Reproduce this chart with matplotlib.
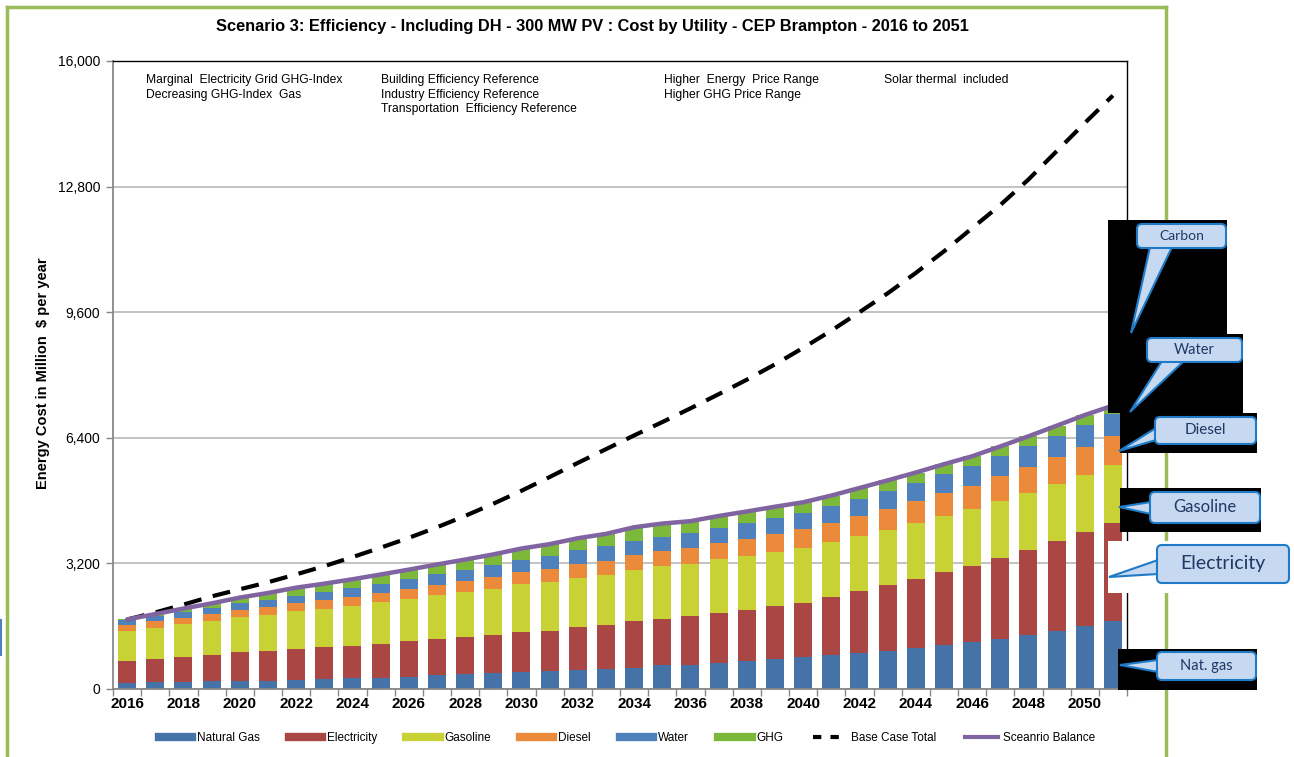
import matplotlib
matplotlib.use("Agg")
import matplotlib.pyplot as plt
import numpy as np
from matplotlib.patches import Rectangle, FancyBboxPatch, Polygon
from matplotlib.lines import Line2D
from matplotlib.transforms import IdentityTransform

# ---------------- data ----------------
years = list(range(2016, 2052))
natural_gas = [165, 180, 185, 200, 205, 210, 228, 252, 275, 285, 314, 348, 374, 399, 441, 467, 492, 518,
               545, 600, 610, 654, 705, 756, 807, 857, 925, 976, 1053, 1129, 1206, 1282, 1375, 1486, 1605, 1723]
electricity = [557, 584, 630, 666, 729, 766, 799, 809, 829, 870, 900, 917, 942, 980, 1000, 1019, 1079, 1104,
               1190, 1195, 1240, 1290, 1316, 1358, 1375, 1478, 1571, 1664, 1749, 1843, 1918, 2046, 2174, 2284, 2385, 2514]
gasoline = [755, 800, 835, 865, 890, 915, 955, 980, 1015, 1055, 1087, 1125, 1155, 1180, 1225, 1250, 1265, 1290,
            1308, 1335, 1341, 1359, 1367, 1380, 1405, 1400, 1390, 1415, 1426, 1430, 1450, 1452, 1452, 1450, 1465, 1468]
diesel = [160, 165, 170, 180, 195, 205, 210, 218, 226, 235, 255, 270, 285, 300, 315, 325, 340, 355,
          368, 385, 400, 415, 440, 460, 480, 505, 525, 540, 560, 585, 610, 635, 655, 685, 712, 745]
water = [125, 130, 150, 160, 165, 170, 185, 205, 220, 235, 245, 265, 280, 290, 310, 340, 365, 365,
         365, 365, 385, 395, 400, 405, 415, 420, 435, 455, 465, 490, 505, 515, 530, 550, 565, 560]
ghg = [10, 50, 80, 110, 145, 180, 205, 220, 230, 238, 240, 248, 262, 280, 288, 290, 300, 320,
       345, 335, 300, 295, 295, 285, 275, 268, 275, 265, 262, 250, 240, 250, 252, 252, 248, 210]
base_case_total = [1770, 1950, 2150, 2360, 2540, 2720, 2920, 3130, 3360, 3600, 3850, 4120, 4410, 4720, 5050,
                   5400, 5760, 6110, 6460, 6800, 7150, 7510, 7880, 8270, 8690, 9130, 9600, 10080, 10600,
                   11150, 11740, 12330, 12980, 13700, 14420, 15120]

series_names = ["Natural Gas", "Electricity", "Gasoline", "Diesel", "Water", "GHG"]
series_values = [natural_gas, electricity, gasoline, diesel, water, ghg]
series_colors = ["#4572A7", "#AA4643", "#C9D234", "#EC8A3B", "#4F81BD", "#7CB83A"]

title = "Scenario 3: Efficiency - Including DH - 300 MW PV : Cost by Utility - CEP Brampton - 2016 to 2051"
ylabel = "Energy Cost in Million  $ per year"
yticks = [0, 3200, 6400, 9600, 12800, 16000]
notes = [
    (146, 80, "Marginal  Electricity Grid GHG-Index"),
    (146, 95, "Decreasing GHG-Index  Gas"),
    (381, 80, "Building Efficiency Reference"),
    (381, 95, "Industry Efficiency Reference"),
    (381, 109, "Transportation  Efficiency Reference"),
    (664, 80, "Higher  Energy  Price Range"),
    (664, 95, "Higher GHG Price Range"),
    (884, 80, "Solar thermal  included"),
]
callouts = ["Carbon", "Water", "Diesel", "Gasoline", "Electricity", "Nat. gas"]

# ---------------- figure ----------------
W, H = 1294, 757
plt.rcParams['font.family'] = ['Liberation Sans', 'DejaVu Sans']
fig = plt.figure(figsize=(W / 100, H / 100), dpi=100)
fig.patch.set_facecolor("white")

ax_l, ax_r, ax_t, ax_b = 113, 1127, 61, 689
ax = fig.add_axes([ax_l / W, 1 - ax_b / H, (ax_r - ax_l) / W, (ax_b - ax_t) / H])

x = np.array(years)
bottom = np.zeros(len(years))
for name, vals, col in zip(series_names, series_values, series_colors):
    v = np.array(vals, dtype=float)
    ax.bar(x, v, bottom=bottom, width=0.64, color=col, edgecolor="none", zorder=2)
    bottom += v
balance = bottom.copy()

ax.plot(x, base_case_total, color="black", lw=3, ls=(0, (4.3, 2.8)), zorder=3, dash_capstyle="butt")
ax.plot(x, balance, color="#8064A2", lw=3.2, zorder=4, solid_capstyle="round")

ax.set_xlim(2015.5, 2051.5)
ax.set_ylim(0, 16000)
ax.set_yticks(yticks)
ax.set_yticklabels([f"{v:,}" for v in yticks], fontsize=10)
ax.yaxis.grid(True, color="#BDBDBD", lw=1.3, zorder=0)
ax.set_axisbelow(True)
ax.set_xticks(np.arange(2016, 2052, 2))
ax.set_xticklabels([str(y) for y in range(2016, 2052, 2)], fontsize=11, fontweight="bold")
ax.set_xticks(np.arange(2015.5, 2052, 1), minor=True)
ax.tick_params(axis="x", which="major", length=0, pad=6)
ax.tick_params(axis="x", which="minor", length=5, color="#888888", width=1)
ax.tick_params(axis="y", length=5, color="#888888", width=1, pad=4)
for s in ["left", "bottom"]:
    ax.spines[s].set_color("#888888")
    ax.spines[s].set_linewidth(1.3)
for s in ["top", "right"]:
    ax.spines[s].set_color("black")
    ax.spines[s].set_linewidth(1.0)

fig.text(43 / W, 1 - 373 / H, ylabel, rotation=90, ha="center", va="center",
         fontsize=10.5, fontweight="bold")
fig.text(592 / W, 1 - 27 / H, title, ha="center", va="center", fontsize=11.8, fontweight="bold")
for px, py, t in notes:
    fig.text(px / W, 1 - py / H, t, ha="left", va="center", fontsize=8.7)

# legend
handles = []
for name, col in zip(series_names, series_colors):
    handles.append(Line2D([], [], color=col, lw=6))
handles.append(Line2D([], [], color="black", lw=3, ls=(0, (2.0, 2.2))))
handles.append(Line2D([], [], color="#8064A2", lw=3))
labels = series_names + ["Base Case Total", "Sceanrio Balance"]
fig.legend(handles, labels, loc="center", bbox_to_anchor=(627 / W, 1 - 738 / H), ncol=8,
           frameon=False, fontsize=8.5, handlelength=2.8, handletextpad=0.4, columnspacing=2.5)

# outer green frame
pt = IdentityTransform()
def P(xp, yp):
    return (xp, H - yp)
frame = [Line2D([7, 1166], [H - 7, H - 7]), Line2D([7, 7], [H - 7, -5]), Line2D([1166, 1166], [H - 7, -5])]
for ln in frame:
    ln.set_transform(pt)
    ln.set_color("#9BBB59")
    ln.set_linewidth(2.5)
    ln.set_zorder(1)
    fig.add_artist(ln)
blue_bit = Line2D([1, 1], [H - 620, H - 655], color="#4F81BD", lw=1.5, transform=pt)
fig.add_artist(blue_bit)

# callouts
def black(x0, y0, x1, y1, color="black"):
    r = Rectangle(P(x0, y1), x1 - x0, y1 - y0, transform=pt, facecolor=color, edgecolor="none", zorder=10)
    fig.add_artist(r)

def callout(text, box, tail, fs):
    x0, y0, x1, y1 = box
    poly = Polygon([P(*tail[0]), P(*tail[1]), P(*tail[2])], closed=True, transform=pt,
                   facecolor="#C6D9F1", edgecolor="#1F7BC8", lw=1.5, zorder=11)
    fig.add_artist(poly)
    b = FancyBboxPatch(P(x0, y1), x1 - x0, y1 - y0, boxstyle="round,pad=0,rounding_size=5",
                       transform=pt, facecolor="#C6D9F1", edgecolor="#1F7BC8", lw=1.5, zorder=12)
    fig.add_artist(b)
    fig.text((x0 + x1) / 2 / W, 1 - (y0 + y1) / 2 / H, text, ha="center", va="center", fontsize=fs,
             color="#1F3864", family=["Lato", "DejaVu Sans"], zorder=13)

black(1108, 220, 1227, 334)
black(1108, 334, 1243, 413)
black(1120, 413, 1257, 453)
black(1120, 488, 1261, 532)
black(1108, 541, 1292, 593, color="white")
black(1118, 649, 1257, 690)

callout("Carbon", (1137, 224, 1226, 248), [(1150, 247), (1172, 247), (1131, 333)], 10)
callout("Water", (1147, 338, 1242, 362), [(1162, 361), (1184, 361), (1130, 412)], 10.5)
callout("Diesel", (1155, 417, 1256, 444), [(1156, 428), (1156, 440), (1119, 451)], 11)
callout("Gasoline", (1150, 492, 1260, 523), [(1151, 502), (1151, 514), (1119, 507)], 12)
callout("Electricity", (1157, 545, 1289, 583), [(1158, 560), (1158, 574), (1109, 577)], 14)
callout("Nat. gas", (1157, 652, 1256, 680), [(1158, 660), (1158, 672), (1120, 665)], 10.5)

fig.savefig("out.png", dpi=100)
